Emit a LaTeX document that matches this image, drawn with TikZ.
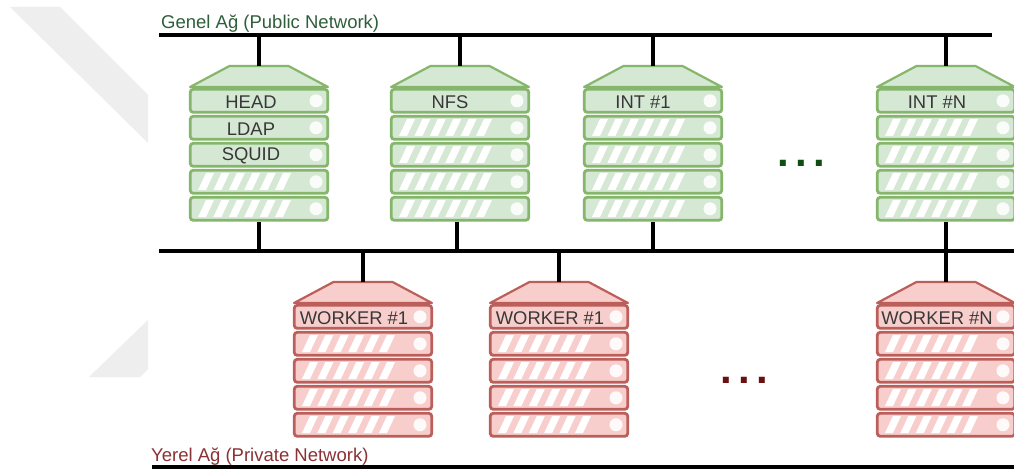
\documentclass[tikz,border=0pt]{standalone}
\usepackage{fontspec}
\setmainfont{Liberation Sans}
\usetikzlibrary{shapes.geometric}
\definecolor{gfill}{HTML}{D5E8D4}
\definecolor{gline}{HTML}{86B66C}
\definecolor{rfill}{HTML}{F8CECC}
\definecolor{rline}{HTML}{BC5F5B}
\definecolor{wm}{HTML}{EEEEEE}
\definecolor{gtext}{HTML}{2F5F3A}
\definecolor{rtext}{HTML}{8A3236}
\definecolor{gdots}{HTML}{0F4D12}
\definecolor{rdots}{HTML}{6B1010}
\tikzset{
  bus/.style={fill=black,inner sep=0pt,minimum height=4pt,outer sep=0pt},
  link/.style={draw=black,line width=4pt},
  roof/.style={trapezium,trapezium stretches=true,trapezium left angle=28,trapezium right angle=28,
    minimum width=138pt,minimum height=21pt,inner sep=0pt,outer sep=0pt,draw=#1line,fill=#1fill,line width=2.2pt,line join=round,anchor=north},
  row/.style={rectangle,rounded corners=3pt,minimum width=137.5pt,minimum height=23pt,inner sep=0pt,outer sep=1.4pt,
    draw=#1line,fill=#1fill,line width=2.8pt},
  led/.style={circle,fill=white,fill opacity=.9,draw=none,minimum size=13pt,inner sep=0pt},
  rowtext/.style={text=black!78,font=\fontsize{18.4}{20}\selectfont,inner sep=0pt},
  netlabel/.style={font=\fontsize{18.5}{20}\selectfont,anchor=west,inner sep=0pt},
  dotsnode/.style={font=\bfseries\fontsize{42}{44}\selectfont,inner sep=0pt,anchor=base}
}
\newcommand\serverstack[6]{% name, left x, roof top y, colour, label shift, labels
  \node[roof=#4] (#1roof) at (#2+70,#3) {\phantom{\rule{5.64pt}{2pt}}};
  \foreach \lbl [count=\i] in {#6} {
    \pgfmathsetmacro\rowtop{#3+22+(\i-1)*27}
    \node[row=#4] (#1r\i) at (#2+70,\rowtop+12.8) {};
    \node[led] (#1c\i) at (#2+127,\rowtop+12.8) {};
    \ifx\lbl\empty
      \foreach \k in {0,...,5}{
        \pgfmathsetmacro\sx{#2+9+\k*15.4}
        \fill[white] (\sx,\rowtop+21) -- (\sx+8,\rowtop+21) -- (\sx+16,\rowtop+4) -- (\sx+8,\rowtop+4) -- cycle;
      }
    \else
      \node[rowtext] (#1t\i) at (#2+70+#5,\rowtop+13.8) {\lbl};
    \fi
  }
}
\begin{document}
\begin{tikzpicture}[x=1pt,y=-1pt]
\clip (0,0) rectangle (1014,473);
\fill[white] (0,0) rectangle (1014,473);
% watermark fragments
\fill[wm] (10,7) -- (60,7) -- (148,95) -- (148,143) -- cycle;
\fill[wm] (148,320) -- (89,377) -- (140,377) -- (148,369) -- cycle;
% buses
\node[bus,minimum width=833pt,anchor=west] (public) at (159,35) {};
\node[bus,minimum width=860pt,anchor=west] (middle) at (159,251) {};
\node[bus,minimum width=870pt,anchor=west] (private) at (152,467) {};
% network labels
\node[netlabel,text=gtext] (publiclabel) at (161,24) {Genel Ağ (Public Network)};
\node[netlabel,text=rtext] (privatelabel) at (151,457) {Yerel Ağ (Private Network)};
% servers
\serverstack{a}{189}{66}{g}{-8}{HEAD,LDAP,SQUID,{},{}}
\serverstack{b}{390}{66}{g}{-10}{NFS,{},{},{},{}}
\serverstack{c}{583}{66}{g}{-10}{INT \#1,{},{},{},{}}
\serverstack{d}{876}{66}{g}{-9}{INT \#N,{},{},{},{}}
\serverstack{e}{293}{282}{r}{-9}{WORKER \#1,{},{},{},{}}
\serverstack{f}{489}{282}{r}{-9}{WORKER \#1,{},{},{},{}}
\serverstack{h}{876}{282}{r}{-9}{WORKER \#N,{},{},{},{}}
% connectors
\foreach \n in {a,b,c,d}{
  \draw[link] (public.center -| \n roof.north) -- (\n roof.north);
}
\foreach \n in {a,c,d}{
  \draw[link] (\n r5.south) -- (middle.center -| \n r5.south);
}
\coordinate (bdrop) at ([xshift=-3pt]br5.south);
\draw[link] (bdrop) -- (middle.center -| bdrop);
\foreach \n in {e,f,h}{
  \draw[link] (middle.center -| \n roof.north) -- (\n roof.north);
}
% ellipses
\node[dotsnode,text=gdots] (moregreen) at (801,167) {.\kern6.3pt.\kern6.3pt.};
\node[dotsnode,text=rdots] (morered) at (744,383) {.\kern6.3pt.\kern6.3pt.};
\end{tikzpicture}
\end{document}
